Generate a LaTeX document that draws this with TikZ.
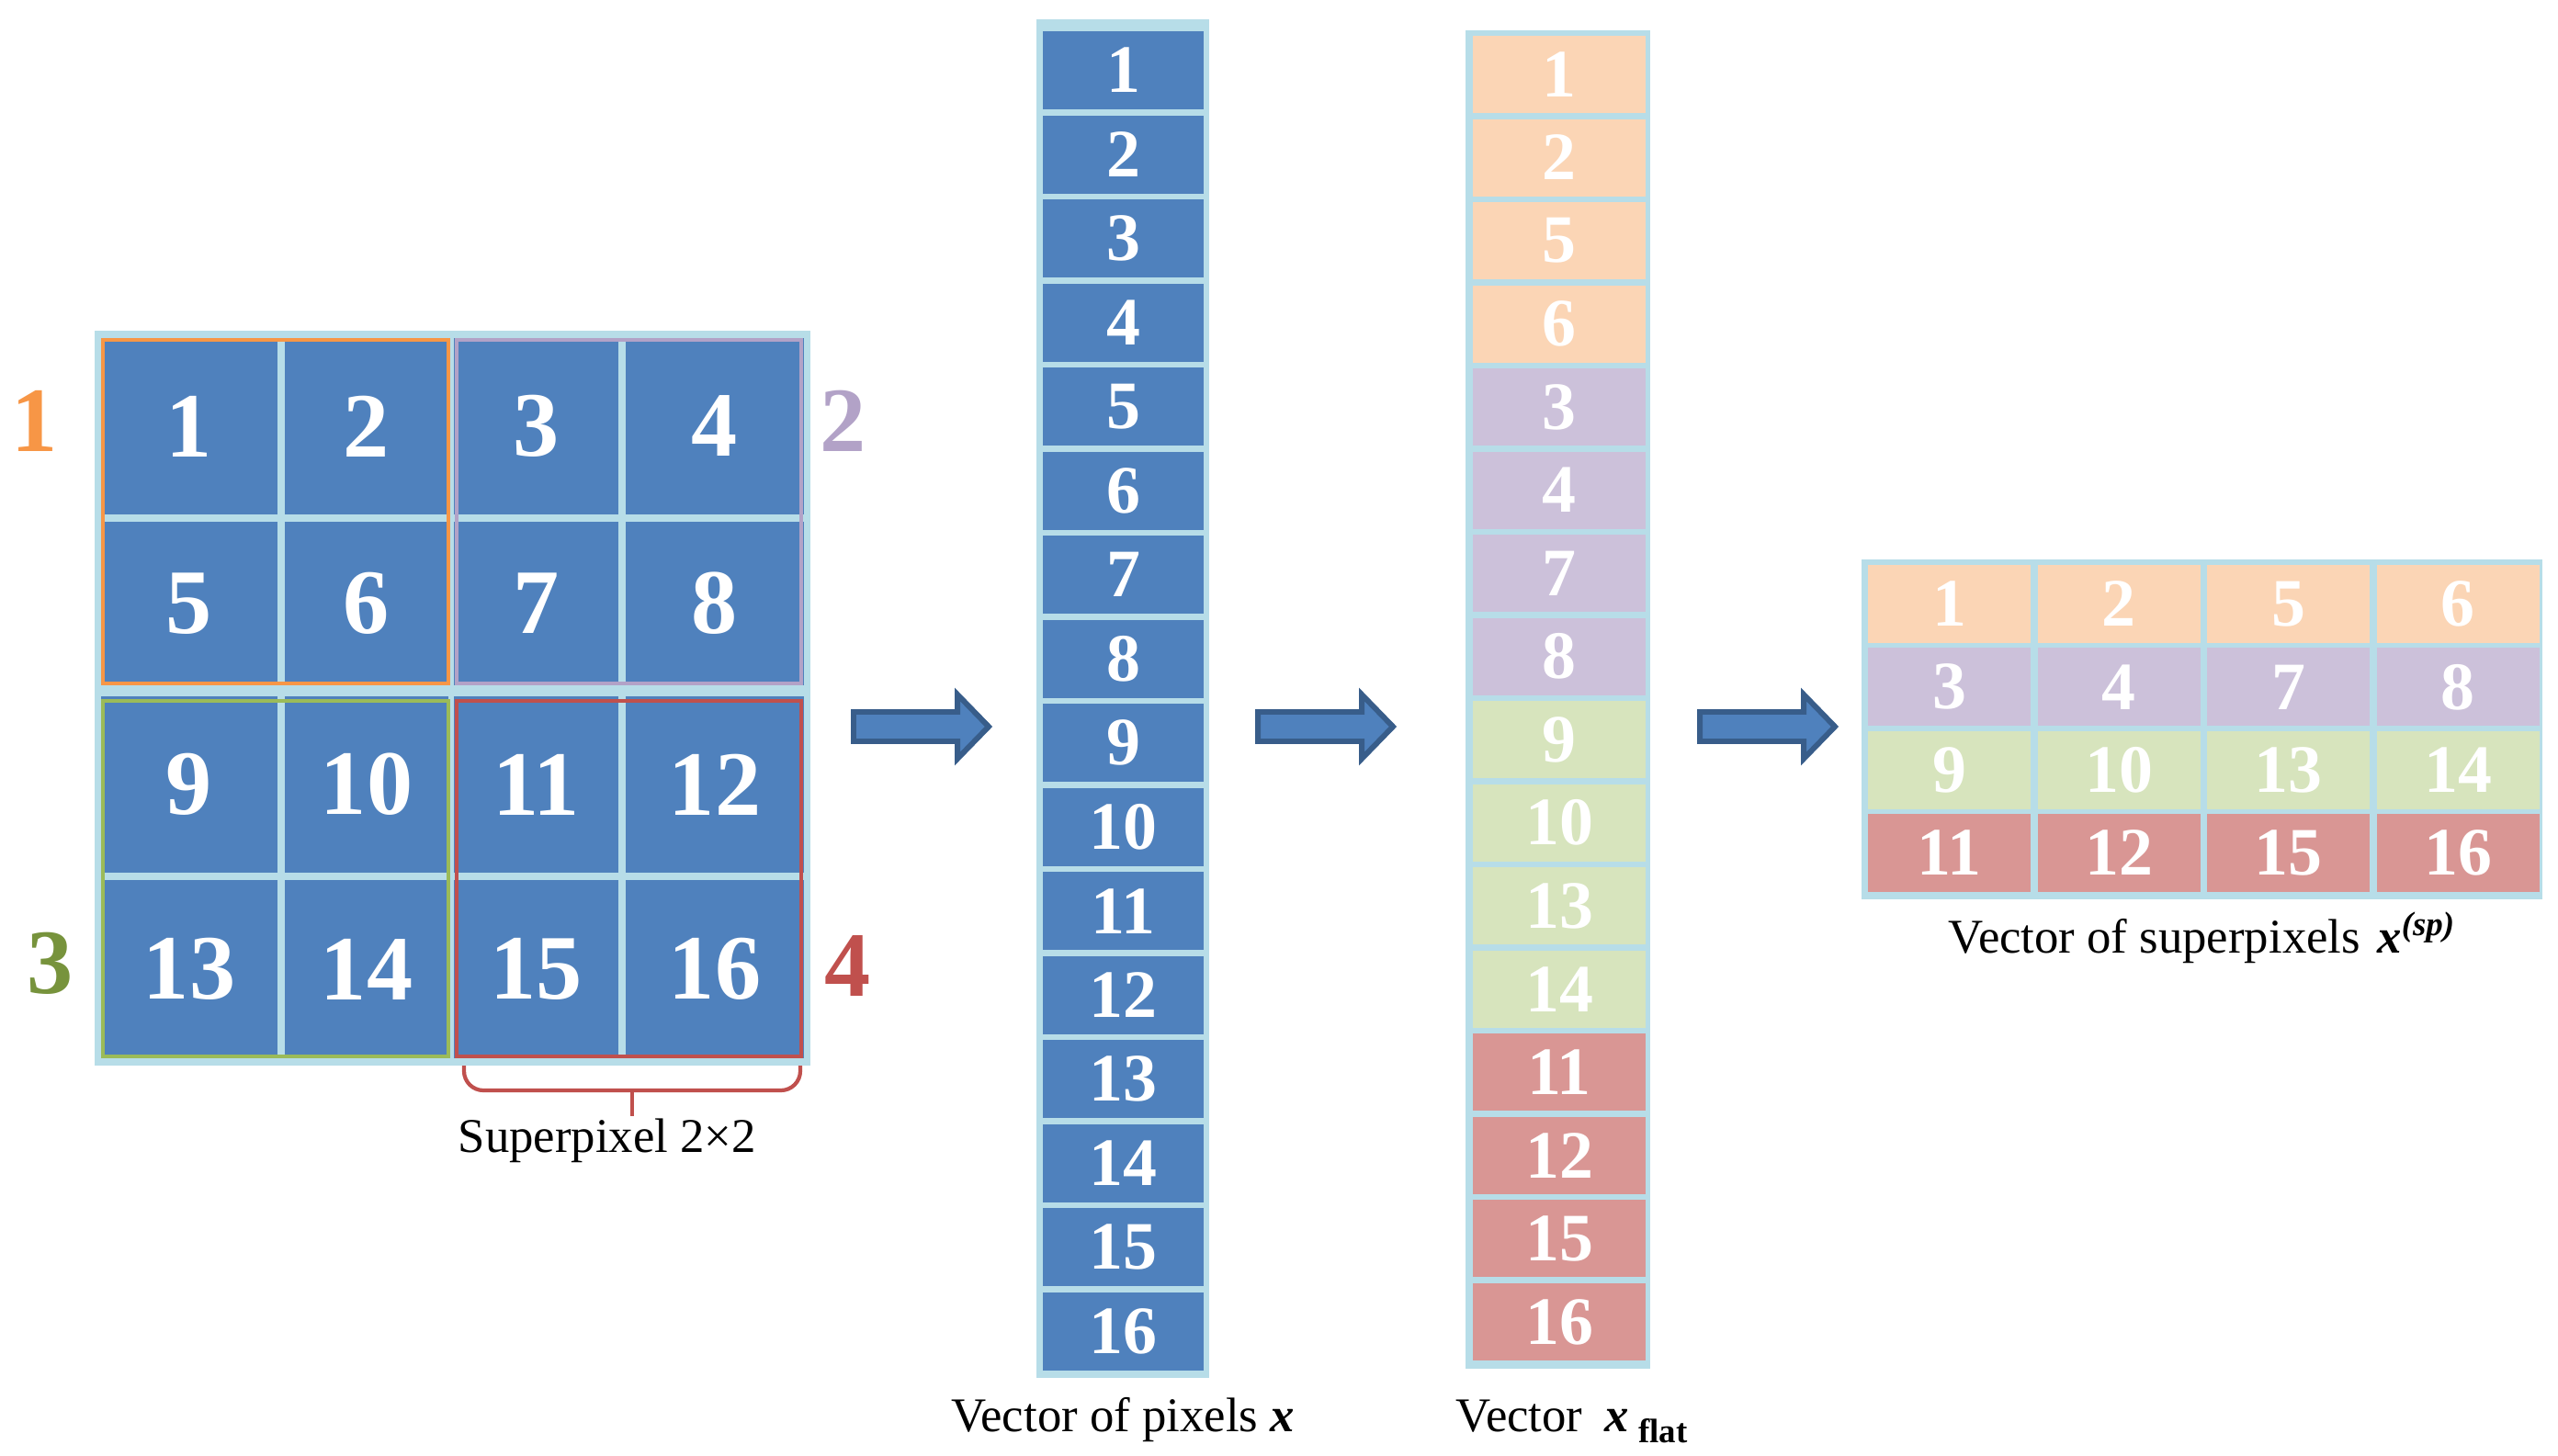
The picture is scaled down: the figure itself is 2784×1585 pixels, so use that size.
\documentclass[tikz,border=0pt]{standalone}
\usepackage{fontspec}
\setmainfont{Liberation Serif}
\definecolor{lblue}{HTML}{B7DDE8}
\definecolor{dblue}{HTML}{4F81BD}
\definecolor{arrline}{HTML}{385D8A}
\definecolor{oframe}{HTML}{F79646}
\definecolor{pframe}{HTML}{B2A2C7}
\definecolor{gframe}{HTML}{9BBB59}
\definecolor{glabel}{HTML}{77933C}
\definecolor{rframe}{HTML}{C0504D}
\definecolor{peach}{HTML}{FBD5B5}
\definecolor{lilac}{HTML}{CCC1DA}
\definecolor{sage}{HTML}{D7E4BD}
\definecolor{rose}{HTML}{D99694}
\begin{document}
\begin{tikzpicture}[x=0.01cm,y=-0.01cm,
  lb/.style={fill=lblue,draw=none},
  cellbox/.style={draw=none,inner sep=0pt,text=white},
  big/.style={font=\fontsize{28.5}{30}\selectfont\bfseries},
  small/.style={font=\fontsize{21}{22}\selectfont\bfseries},
  caption/.style={font=\fontsize{15}{16}\selectfont,inner sep=0pt,text=black},
  sframe/.style={line width=1.4pt},
  blockarrow/.style={fill=dblue,draw=arrline,line width=1.7pt,line join=miter},
  bracketline/.style={draw=rframe,line width=1.2pt}]
\useasboundingbox (0,0) rectangle (2784,1585);
\fill[white] (0,0) rectangle (2784,1585);

% ---------- image grid ----------
\fill[lb] (103,360) rectangle (882,1160);
\foreach \r/\cy/\h in {1/464/192,2/657/178,3/854/192,4/1055/194}{
  \foreach \c/\cx/\w in {1/206/192,2/399/178,3/583.5/179,4/778/194}{
    \pgfmathtruncatemacro{\n}{4*(\r-1)+\c}
    \node[cellbox,big,fill=dblue,minimum width=\w*0.01cm,minimum height=\h*0.01cm]
      (g\n) at (\cx,\cy) {\n};
  }
}
\draw[sframe,oframe] (112,370) rectangle (488,744);
\draw[sframe,pframe] (497,370) rectangle (872,744);
\draw[sframe,gframe] (112,763) rectangle (488,1150);
\draw[sframe,rframe] (497,763) rectangle (872,1150);
\node[big,text=oframe,inner sep=0pt] (l1) at (38,458) {1};
\node[big,text=pframe,inner sep=0pt] (l2) at (918,458) {2};
\node[big,text=glabel,inner sep=0pt] (l3) at (55,1049) {3};
\node[big,text=rframe,inner sep=0pt] (l4) at (923,1052) {4};

% bracket
\draw[bracketline,rounded corners=6] (505,1160) -- (505,1187) -- (871,1187) -- (871,1160);
\draw[bracketline] (688,1187) -- (688,1215);
\node[caption,anchor=base west] (capsp) at (498,1254) {Superpixel 2×2};

% ---------- vector of pixels ----------
\fill[lb] (1128,21) rectangle (1316,1500);
\foreach \i in {1,...,16}{
  \node[cellbox,small,fill=dblue,minimum width=175*0.01cm,minimum height=85*0.01cm]
    (p\i) at (1222.5,{76.5+91.53*(\i-1)}) {\i};
}
\node[caption,anchor=base] (capx) at (1222,1558) {Vector of pixels \textbf{\textit{x}}};

% ---------- flat vector ----------
\fill[lb] (1595,33) rectangle (1796,1490);
\foreach \i/\v/\col in {1/1/peach,2/2/peach,3/5/peach,4/6/peach,
                        5/3/lilac,6/4/lilac,7/7/lilac,8/8/lilac,
                        9/9/sage,10/10/sage,11/13/sage,12/14/sage,
                        13/11/rose,14/12/rose,15/15/rose,16/16/rose}{
  \node[cellbox,small,fill=\col,minimum width=188*0.01cm,minimum height=84*0.01cm]
    (f\i) at (1697,{81+90.53*(\i-1)}) {\v};
}
\node[caption,anchor=base west] (capflat) at (1584,1558)
  {Vector\hspace{0.45em}\textbf{\textit{x}}\hspace{0.2em}\raisebox{-0.5ex}{\fontsize{10.5}{11}\selectfont\bfseries flat}};

% ---------- superpixel vector ----------
\fill[lb] (2026,609) rectangle (2767,979);
\foreach \r/\col/\a/\b/\cc/\d in {1/peach/1/2/5/6,2/lilac/3/4/7/8,3/sage/9/10/13/14,4/rose/11/12/15/16}{
  \foreach \c/\v in {1/\a,2/\b,3/\cc,4/\d}{
    \node[cellbox,small,fill=\col,minimum width=177*0.01cm,minimum height=85*0.01cm]
      (s\v) at ({2121.5+184.5*(\c-1)},{657.5+90.33*(\r-1)}) {\v};
  }
}
\node[caption,anchor=base west] (capsp2) at (2120,1037)
  {Vector of superpixels\hspace{0.35em}\textbf{\textit{x}}\textsuperscript{\textbf{\textit{(sp)}}}};

% ---------- block arrows ----------
\foreach \x in {929,1369,1850}{
  \draw[blockarrow] (\x,775) -- ++(113,0) -- ++(0,-19) -- ++(34,35) -- ++(-34,35)
    -- ++(0,-19) -- ++(-113,0) -- cycle;
}
\end{tikzpicture}
\end{document}
